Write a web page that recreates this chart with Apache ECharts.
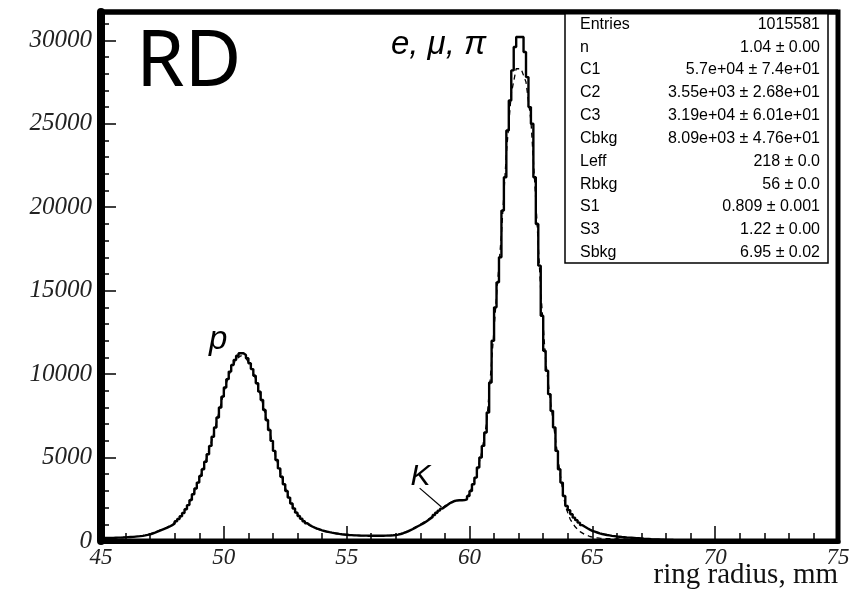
<!DOCTYPE html>
<html>
<head>
<meta charset="utf-8">
<script src="https://cdn.jsdelivr.net/npm/echarts@6/dist/echarts.min.js"></script>
<style>
html,body{margin:0;padding:0;background:#fff;}
#c{width:852px;height:592px;}
</style>
</head>
<body>
<div id="c"></div>
<script>
// ---- data ----
const binStart = 45;
const binWidth = 0.1;
// histogram counts per 0.1 mm bin, one row per mm, 45.0 .. 75.0
const counts = [
  180,182,185,188,190,195,200,205,210,220,
  230,240,250,260,275,290,310,335,365,400,
  450,500,560,620,680,740,800,870,950,1050,
  1180,1320,1480,1680,1900,2150,2450,2800,3150,3500,
  3900,4300,4750,5200,5700,6250,6800,7400,8000,8650,
  9200,9700,10150,10550,10850,11100,11250,11250,11150,10950,
  10650,10300,9900,9450,8950,8450,7850,7250,6650,6000,
  5400,4850,4350,3850,3400,3000,2600,2250,1950,1700,
  1500,1330,1180,1060,960,870,800,740,690,640,
  600,565,530,500,475,450,425,405,390,375,
  360,350,340,335,330,325,322,320,318,316,
  315,315,315,316,318,320,325,332,342,360,
  385,420,465,520,580,650,720,800,880,960,
  1040,1130,1230,1330,1440,1560,1690,1820,1940,2050,
  2160,2260,2330,2400,2430,2440,2440,2450,2500,2700,
  3000,3400,3800,4400,5000,5700,6500,7700,9500,12000,
  14000,15500,17000,19800,21800,24600,26400,28200,29600,30200,
  30200,30200,29300,27800,26000,25000,21800,19000,16500,13500,
  11400,10200,8800,7800,6800,5400,4300,3500,2700,2100,
  1850,1600,1400,1250,1100,950,850,760,680,610,
  560,510,460,420,390,360,335,310,290,270,
  255,240,228,215,205,195,185,175,165,155,
  140,128,118,108,100,92,86,80,75,70,
  66,62,58,55,52,50,48,46,44,42,
  40,39,38,37,36,35,34,33,32,31,
  30,29,28,28,27,27,26,26,25,25,
  24,24,23,23,22,22,21,21,20,20,
  19,19,19,18,18,18,17,17,17,16,
  16,16,15,15,15,14,14,14,13,13,
  13,13,12,12,12,11,11,11,10,10
];
// fit function sampled every 0.2 mm (centres 45.1 .. 66.9)
const fitStart = 45.1;
const fitStep = 0.2;
const fitValues = [
  181,186,192,202,215,235,255,282,322,382,
  475,590,710,835,1000,1250,1580,2025,2625,3325,
  4100,4975,5975,7100,8325,9450,10300,10900,11100,10950,
  10475,9675,8700,7550,6325,5125,4100,3200,2425,1825,
  1415,1120,915,770,665,582,515,462,415,382,
  355,337,327,321,317,315,315,322,337,355,
  402,492,615,760,920,1085,1280,1500,1755,1995,
  2210,2365,2435,2445,2600,3200,4100,5350,7100,10750,
  14700,18400,23200,26800,28300,28300,27500,25200,20400,15000,
  10800,8300,6100,3900,2100,1300,850,560,380,270,
  200,170,150,140,130,125,120,115,110,105
];
const xTicks = {min: 45, max: 75, step: 5};
const yTicks = {min: 0, max: 31700, step: 5000, minorStep: 1000};
const xTitle = 'ring radius, mm';
const statNames = ['Entries','n','C1','C2','C3','Cbkg','Leff','Rbkg','S1','S3','Sbkg'];
const statValues = ['1015581','1.04 \u00b1 0.00','5.7e+04 \u00b1 7.4e+01','3.55e+03 \u00b1 2.68e+01',
  '3.19e+04 \u00b1 6.01e+01','8.09e+03 \u00b1 4.76e+01','218 \u00b1 0.0','56 \u00b1 0.0',
  '0.809 \u00b1 0.001','1.22 \u00b1 0.00','6.95 \u00b1 0.02'];
// peak annotations in data coordinates
const peakLabels = [
  {text: 'e, \u03bc, \u03c0', x: 56.8, y: 29760},
  {text: 'p', x: 49.4, y: 12040},
  {text: 'K', x: 57.6, y: 3830}
];
const kPointer = [[57.97, 3170], [58.86, 2040]];

// ---- build ----
const histData = [[binStart, counts[0]]];
counts.forEach((c, i) => histData.push([binStart + (i + 0.5) * binWidth, c]));
histData.push([binStart + counts.length * binWidth, counts[counts.length - 1]]);
const fitData = fitValues.map((v, i) => [fitStart + i * fitStep, v]);

const chart = echarts.init(document.getElementById('c'), null, {renderer: 'canvas'});
const serif = 'Liberation Serif';

chart.setOption({
  animation: false,
  backgroundColor: '#fff',
  title: {
    text: 'RD', left: 131, top: 20,
    textStyle: {fontFamily: 'Noto Sans', fontWeight: 'normal', fontSize: 78, color: '#000'}
  },
  grid: {left: 101, right: 14, top: 12, bottom: 51, containLabel: false, outerBoundsMode: 'none',
    show: true, borderWidth: 5, borderColor: '#000', backgroundColor: 'transparent'},
  xAxis: {
    type: 'value', min: xTicks.min, max: xTicks.max, interval: xTicks.step,
    axisLine: {show: true, lineStyle: {color: '#000', width: 5}},
    axisTick: {show: true, inside: true, length: 15, lineStyle: {color: '#000', width: 1.5}},
    minorTick: {show: true, splitNumber: 5, length: 8, lineStyle: {color: '#000', width: 1.5}},
    axisLabel: {margin: 5, fontFamily: serif, fontStyle: 'italic', fontSize: 23, color: '#222'},
    splitLine: {show: false}
  },
  yAxis: [{
    type: 'value', min: yTicks.min, max: yTicks.max, interval: yTicks.step,
    axisLine: {show: true, lineStyle: {color: '#000', width: 8}},
    axisTick: {show: true, inside: true, length: 15, lineStyle: {color: '#000', width: 1.5}},
    axisLabel: {margin: 9, fontFamily: serif, fontStyle: 'italic', fontSize: 25, color: '#222',
      formatter: v => (v % yTicks.step === 0 ? String(v) : '')},
    splitLine: {show: false}
  }, {
    type: 'value', min: yTicks.min, max: yTicks.max, interval: yTicks.minorStep, position: 'left',
    axisLine: {show: false},
    axisTick: {show: true, inside: true, length: 8, lineStyle: {color: '#000', width: 1.5}},
    axisLabel: {show: false},
    splitLine: {show: false}
  }],
  series: [{
    name: 'fit', type: 'line', data: fitData, showSymbol: false, smooth: false,
    lineStyle: {color: '#000', width: 1.3, type: [5, 4]}, z: 2, silent: true
  }, {
    name: 'hist', type: 'line', step: 'middle', data: histData, showSymbol: false,
    lineStyle: {color: '#000', width: 2.4}, z: 3, silent: true
  }]
});

// annotations, axis title and stats box
const g = [];
const labelFonts = ['italic 33px "Liberation Sans"', 'italic 33px "Liberation Sans"', 'italic 30px "Liberation Sans"'];
peakLabels.forEach((p, i) => {
  const pt = chart.convertToPixel({gridIndex: 0}, [p.x, p.y]);
  g.push({type: 'text', x: pt[0], y: pt[1], z: 20,
    style: {text: p.text, font: labelFonts[i], fill: '#000', verticalAlign: 'middle', align: 'left'}});
});
const a = chart.convertToPixel({gridIndex: 0}, kPointer[0]);
const b = chart.convertToPixel({gridIndex: 0}, kPointer[1]);
g.push({type: 'line', z: 20, shape: {x1: a[0], y1: a[1], x2: b[0], y2: b[1]}, style: {stroke: '#000', lineWidth: 1.2}});

g.push({type: 'text', right: 14, bottom: 2, z: 20,
  style: {text: xTitle, font: '29px "Liberation Serif"', fill: '#111'}});

const boxL = 565, boxT = 12, boxR = 828, boxB = 263;
g.push({type: 'rect', z: 30, shape: {x: boxL, y: boxT, width: boxR - boxL, height: boxB - boxT},
  style: {fill: '#fff', stroke: '#000', lineWidth: 1.5}});
const rowH = (boxB - boxT) / statNames.length;
statNames.forEach((n, i) => {
  const yc = boxT + rowH * (i + 0.5) + 1;
  g.push({type: 'text', z: 31, x: boxL + 15, y: yc,
    style: {text: n, font: '16px "Liberation Sans"', fill: '#000', verticalAlign: 'middle', align: 'left'}});
  g.push({type: 'text', z: 31, x: boxR - 8, y: yc,
    style: {text: statValues[i], font: '16px "Liberation Sans"', fill: '#000', verticalAlign: 'middle', align: 'right'}});
});
// redraw top border over the box
g.push({type: 'line', z: 32, shape: {x1: 101, y1: 12, x2: 838, y2: 12}, style: {stroke: '#000', lineWidth: 5}});
chart.setOption({graphic: g});
</script>
</body>
</html>
